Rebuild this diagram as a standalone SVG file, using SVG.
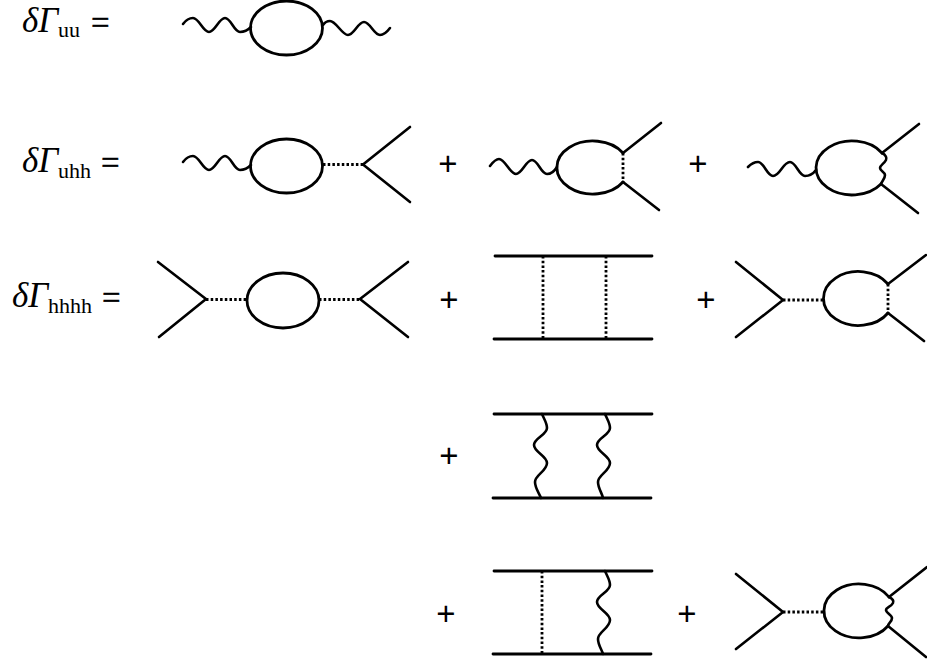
<svg xmlns="http://www.w3.org/2000/svg" width="927" height="666" viewBox="0 0 927 666">
<style>
.l{fill:none;stroke:#000;stroke-width:2.6;stroke-linecap:round}
.s{stroke-width:2.8}
.d{fill:none;stroke:#000;stroke-width:2.8;stroke-dasharray:2.5 2.2}
.t{font-family:"Liberation Serif","Times New Roman",serif;fill:#000}
.i{font-size:35px;font-style:italic}
.b{font-size:22px}
.e{font-size:33px;stroke:#000;stroke-width:.4}
.p{font-family:"Liberation Sans",Arial,sans-serif;font-size:33px;text-anchor:middle;fill:#000}
</style>
<rect width="927" height="666" fill="#fff"/>
<g id="labels">
<text class="t i" x="22" y="32">δΓ</text><text class="t b" x="58" y="37">uu</text><text class="t e" x="91" y="34">=</text>
<text class="t i" x="22" y="172">δΓ</text><text class="t b" x="58" y="178">uhh</text><text class="t e" x="101" y="174">=</text>
<text class="t i" x="12" y="307">δΓ</text><text class="t b" x="48" y="313">hhhh</text><text class="t e" x="102" y="309">=</text>
</g>
<g id="plus">
<text class="p" x="448" y="174.500">+</text><text class="p" x="698" y="174.500">+</text>
<text class="p" x="449" y="310.500">+</text><text class="p" x="706" y="310.500">+</text>
<text class="p" x="449" y="466.500">+</text>
<text class="p" x="446" y="624.500">+</text><text class="p" x="687" y="624.500">+</text>
</g>
<g id="uu">
<ellipse class="l s" cx="286.500" cy="28" rx="36" ry="27"/>
<path class="l" d="M183,24C186,20 189,18 193,18C199,18 203,32 209,32C215,32 219,18 225,18C231,18 234,32 240,32C245,32 248,30 251,27"/>
<path class="l" d="M323,25C325,22 327,21 330,21C336,21 342,35 348,35C354,35 358,22 364,22C370,22 374,35 380,35C384,35 387,32 390,28"/>
</g>
<g id="uhh-a">
<ellipse class="l s" cx="286.500" cy="166" rx="36" ry="27"/>
<path class="l" d="M183,162C186,158 189,156 193,156C199,156 203,170 209,170C215,170 219,156 225,156C231,156 234,170 240,170C245,170 248,168 251,165"/>
<path class="d" d="M323,164.500H363"/>
<path class="l" d="M410,127L363,164.500L410,202"/>
</g>
<g id="uhh-b">
<path class="l s" d="M623,153A36,26.500 0 1 0 623,182"/>
<path class="l" d="M490,166C493,162 496,159 499,159C505,159 510,174 516,174C522,174 526,160 532,160C538,160 541,174 547,174C551,174 554,172 557,167"/>
<path class="d" d="M623,153V182"/>
<path class="l" d="M661,123L623,153M659,210L623,182"/>
</g>
<g id="uhh-c">
<path class="l s" d="M882,153A36,27 0 1 0 881,184"/>
<path class="l" d="M748,167C751,164 754,162 758,162C764,162 767,176 773,176C780,176 783,162 790,162C796,162 799,176 805,176C810,176 813,174 816,170"/>
<path class="l" d="M882,153C886,155 887,158 886,160C884,164 880,165 880,168C880,171 885,172 885,175C885,179 882,181 881,184"/>
<path class="l" d="M919,124L882,153M918,213L881,184"/>
</g>
<g id="hhhh-a">
<ellipse class="l s" cx="283" cy="300.500" rx="36" ry="27.500"/>
<path class="l" d="M158,262L206,299L159,337"/>
<path class="d" d="M206,299.500H247M319,299.500H360"/>
<path class="l" d="M408,262L360,299L408,337"/>
</g>
<g id="hhhh-b">
<path class="l s" d="M495,256H652M494,339H652"/>
<path class="d" d="M543,256V339M606,256V339"/>
</g>
<g id="hhhh-c">
<path class="l" d="M736,262L783,300L736,337"/>
<path class="d" d="M783,300H823"/>
<path class="l s" d="M888,284A35,27 0 1 0 888,313"/>
<path class="d" d="M888,284V313"/>
<path class="l" d="M926,255L888,284M924,341L888,313"/>
</g>
<g id="hhhh-d">
<path class="l s" d="M494,414H652M493,498H651"/>
<path class="l" d="M542,414C544,419 547,423 547,428C547,435 534,438 534,445C534,452 547,456 547,463C547,471 535,475 535,482C535,488 539,493 541,498"/>
<path class="l" d="M605,414C607,419 610,423 610,428C610,435 597,438 597,445C597,452 610,456 610,463C610,471 598,475 598,482C598,488 602,493 603,498"/>
</g>
<g id="hhhh-e">
<path class="l s" d="M494,571H652M493,654H651"/>
<path class="d" d="M542,571V654"/>
<path class="l" d="M605,571C607,576 610,580 610,585C610,592 597,595 597,602C597,609 610,613 610,620C610,628 598,632 598,639C598,645 602,650 603,654"/>
</g>
<g id="hhhh-f">
<path class="l" d="M736,574L783,612L736,649"/>
<path class="d" d="M783,612H823"/>
<path class="l s" d="M889,597A35,27 0 1 0 888,626"/>
<path class="l" d="M889,597C893,599 894,601 893,603C891,607 886,607 886,610C886,613 892,615 892,618C892,622 888,623 888,626"/>
<path class="l" d="M927,567L889,597M926,657L888,626"/>
</g>
</svg>
